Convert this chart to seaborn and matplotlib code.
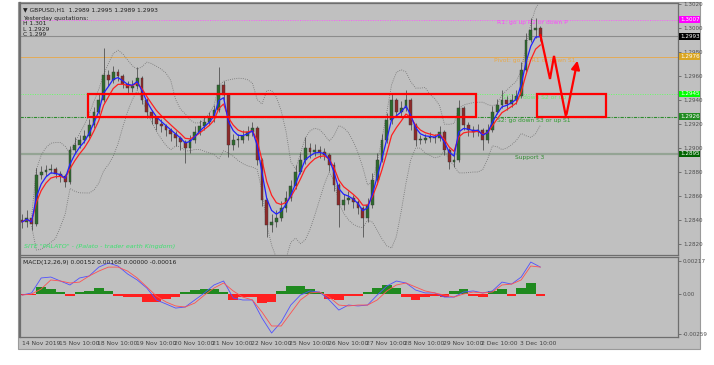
import numpy as np
import pandas as pd
import matplotlib
matplotlib.use("Agg")
import matplotlib.pyplot as plt
import seaborn as sns
from matplotlib.patches import Rectangle

# GBPUSD H1, sampled every 3 hourly bars (bar index in hours from 14 Nov 11:00)
bar_step = 3
first_open = 1.28400
close = [1.28383, 1.28417, 1.28367, 1.28775, 1.28800, 1.28817, 1.28825, 1.28783, 1.28767, 1.28717,
         1.28983, 1.29025, 1.29067, 1.29100, 1.29192, 1.29300, 1.29400, 1.29608, 1.29567, 1.29633,
         1.29600, 1.29533, 1.29500, 1.29517, 1.29583, 1.29400, 1.29300, 1.29250, 1.29200, 1.29183,
         1.29150, 1.29117, 1.29083, 1.29050, 1.29000, 1.29067, 1.29133, 1.29183, 1.29217, 1.29250,
         1.29317, 1.29525, 1.29442, 1.29025, 1.29067, 1.29067, 1.29100, 1.29133, 1.29167, 1.28900,
         1.28567, 1.28358, 1.28383, 1.28417, 1.28500, 1.28583, 1.28683, 1.28800, 1.28900, 1.29000,
         1.28967, 1.28983, 1.28967, 1.28942, 1.28858, 1.28692, 1.28525, 1.28567, 1.28583, 1.28550,
         1.28500, 1.28417, 1.28525, 1.28733, 1.28900, 1.29067, 1.29233, 1.29400, 1.29300, 1.29333,
         1.29400, 1.29192, 1.29067, 1.29067, 1.29083, 1.29092, 1.29083, 1.29133, 1.28983, 1.28883,
         1.28900, 1.29333, 1.29192, 1.29150, 1.29133, 1.29150, 1.29067, 1.29150, 1.29300, 1.29358,
         1.29400, 1.29367, 1.29400, 1.29433, 1.29650, 1.29900, 1.29983, 1.30000, 1.29930]
high = [1.28450, 1.28480, 1.28440, 1.28830, 1.28850, 1.28860, 1.28870, 1.28840, 1.28810, 1.28780,
        1.29020, 1.29090, 1.29110, 1.29150, 1.29240, 1.29340, 1.29450, 1.29833, 1.29650, 1.29680,
        1.29660, 1.29620, 1.29560, 1.29570, 1.29675, 1.29600, 1.29420, 1.29320, 1.29270, 1.29240,
        1.29200, 1.29170, 1.29140, 1.29100, 1.29070, 1.29110, 1.29180, 1.29230, 1.29260, 1.29300,
        1.29360, 1.29675, 1.29560, 1.29450, 1.29120, 1.29120, 1.29150, 1.29180, 1.29220, 1.29180,
        1.28920, 1.28580, 1.28450, 1.28480, 1.28560, 1.28640, 1.28730, 1.28860, 1.28960, 1.29092,
        1.29040, 1.29030, 1.29020, 1.29000, 1.28960, 1.28880, 1.28710, 1.28620, 1.28640, 1.28610,
        1.28570, 1.28520, 1.28580, 1.28790, 1.28960, 1.29120, 1.29290, 1.29458, 1.29420, 1.29390,
        1.29483, 1.29420, 1.29210, 1.29110, 1.29120, 1.29130, 1.29120, 1.29180, 1.29150, 1.29000,
        1.28950, 1.29400, 1.29350, 1.29220, 1.29180, 1.29200, 1.29170, 1.29200, 1.29350, 1.29410,
        1.29483, 1.29430, 1.29450, 1.29480, 1.29720, 1.29960, 1.30083, 1.30083, 1.30020]
low = [1.28330, 1.28340, 1.28317, 1.28350, 1.28740, 1.28770, 1.28790, 1.28750, 1.28720, 1.28675,
       1.28700, 1.28960, 1.29000, 1.29040, 1.29080, 1.29170, 1.29280, 1.29380, 1.29520, 1.29540,
       1.29560, 1.29500, 1.29460, 1.29470, 1.29490, 1.29370, 1.29250, 1.29200, 1.29150, 1.29130,
       1.29100, 1.29060, 1.29020, 1.28980, 1.28875, 1.28960, 1.29040, 1.29110, 1.29150, 1.29190,
       1.29220, 1.29300, 1.29400, 1.28925, 1.28980, 1.29010, 1.29040, 1.29070, 1.29100, 1.28860,
       1.28520, 1.28258, 1.28300, 1.28340, 1.28390, 1.28470, 1.28560, 1.28660, 1.28780, 1.28870,
       1.28920, 1.28930, 1.28920, 1.28900, 1.28810, 1.28640, 1.28342, 1.28480, 1.28530, 1.28500,
       1.28450, 1.28258, 1.28380, 1.28500, 1.28700, 1.28880, 1.29040, 1.29200, 1.29260, 1.29270,
       1.29310, 1.29150, 1.29020, 1.29030, 1.29040, 1.29050, 1.29040, 1.29060, 1.28940, 1.28825,
       1.28840, 1.28880, 1.29150, 1.29100, 1.29090, 1.29100, 1.28983, 1.29040, 1.29130, 1.29280,
       1.29330, 1.29320, 1.29340, 1.29370, 1.29420, 1.29630, 1.29880, 1.29920, 1.29890]

# MACD(12,26,9) read every 6 hourly bars
macd_step = 6
macd_main = [-0.00007, 0.00007, 0.00105, 0.00111, 0.00085, 0.00059, 0.00105, 0.00118, 0.00176, 0.00203,
             0.00183, 0.00131, 0.00092, 0.00039, -0.00039, -0.00065, -0.00092, -0.00085, -0.00039, 0.00007,
             0.00059, 0.00085, -0.00026, -0.00039, -0.00039, -0.00157, -0.00255, -0.00183, -0.00072, -0.00007,
             0.00020, 0.00013, -0.00039, -0.00105, -0.00072, -0.00078, -0.00072, -0.00007, 0.00052, 0.00085,
             0.00072, 0.00026, 0.00007, 0.00007, -0.00020, -0.00020, 0.00013, 0.00020, 0.00007, 0.00020,
             0.00078, 0.00065, 0.00111, 0.00209, 0.00176]
macd_signal = [-0.00007, 0.00000, 0.00033, 0.00092, 0.00085, 0.00072, 0.00078, 0.00118, 0.00150, 0.00176,
               0.00176, 0.00150, 0.00105, 0.00046, -0.00013, -0.00052, -0.00078, -0.00085, -0.00059, -0.00007,
               0.00039, 0.00072, 0.00020, -0.00020, -0.00039, -0.00118, -0.00209, -0.00209, -0.00124, -0.00039,
               0.00007, 0.00013, -0.00020, -0.00072, -0.00078, -0.00072, -0.00072, -0.00039, 0.00020, 0.00059,
               0.00072, 0.00046, 0.00020, 0.00007, -0.00007, -0.00020, 0.00000, 0.00013, 0.00007, 0.00013,
               0.00059, 0.00065, 0.00092, 0.00183, 0.00176]
macd_hist = [-0.00005, -0.00005, 0.00045, 0.00030, 0.00010, -0.00015, 0.00015, 0.00020, 0.00040, 0.00020,
             -0.00010, -0.00020, -0.00020, -0.00050, -0.00050, -0.00030, -0.00020, 0.00010, 0.00025, 0.00030,
             0.00030, 0.00010, -0.00040, -0.00020, -0.00020, -0.00060, -0.00050, 0.00020, 0.00050, 0.00050,
             0.00030, 0.00010, -0.00030, -0.00040, -0.00010, -0.00010, 0.00010, 0.00040, 0.00060, 0.00040,
             -0.00020, -0.00040, -0.00020, -0.00010, -0.00020, 0.00020, 0.00030, -0.00010, -0.00020, 0.00020,
             0.00030, -0.00010, 0.00040, 0.00070, -0.00016]

# pivot levels
level_names = ["R1", "Price", "Pivot", "S1", "S2", "S3"]
level_values = [1.3007, 1.2993, 1.2976, 1.2945, 1.2926, 1.2895]
level_texts = ["R1: go up R2 or down P", "", "Pivot: go up R1 or down S1",
               "S1: go down S2 or up P", "S2: go down S3 or up S1", "Support 3"]

# date axis
date_bars = [0, 23, 47, 71, 95, 119, 143, 167, 191, 215, 239, 263, 287, 311]
date_labels = ["14 Nov 2019", "15 Nov 10:00", "18 Nov 10:00", "19 Nov 10:00", "20 Nov 10:00",
               "21 Nov 10:00", "22 Nov 10:00", "25 Nov 10:00", "26 Nov 10:00", "27 Nov 10:00",
               "28 Nov 10:00", "29 Nov 10:00", "2 Dec 10:00", "3 Dec 10:00"]

# hand drawn annotations (bar index, price)
zones = [(41, 284), (322, 365)]
arrow_bar = [324, 330, 332.5, 340, 347.5]
arrow_price = [1.29942, 1.29575, 1.29767, 1.29258, 1.29750]

df = pd.DataFrame({"close": close, "high": high, "low": low})
df["open"] = [first_open] + close[:-1]
df["bar"] = np.arange(len(df)) * bar_step
df["ma_fast"] = df["close"].ewm(span=3).mean()
df["ma_slow"] = df["close"].ewm(span=5).mean()
mid = df["close"].rolling(8, min_periods=3).mean()
sd = df["close"].rolling(8, min_periods=3).std(ddof=0)
df["bb_up"] = mid + 2 * sd
df["bb_lo"] = mid - 2 * sd

mdf = pd.DataFrame({"macd": macd_main, "signal": macd_signal, "hist": macd_hist})
mdf["bar"] = np.arange(len(mdf)) * macd_step

sns.set_style("white")
plt.rcParams["font.family"] = ["DejaVu Sans"]

W, H = 714, 365
fig = plt.figure(figsize=(W / 100, H / 100), dpi=100)
fig.patch.set_facecolor("white")
bg = "#c0c0c0"
frame = Rectangle((18 / W, 1 - 349 / H), 682 / W, 347 / H, transform=fig.transFigure,
                  facecolor=bg, edgecolor="#9a9a9a", lw=0.8, zorder=-10)
fig.add_artist(frame)

ax = fig.add_axes([20 / W, 1 - 255 / H, 658 / W, 252 / H])
axm = fig.add_axes([20 / W, 1 - 337 / H, 658 / W, 80 / H])
x_lim = (-1.25, 410)
for a in (ax, axm):
    a.set_facecolor(bg)
    a.set_xlim(*x_lim)
    for s in a.spines.values():
        s.set_color("#6e6e6e")
        s.set_linewidth(0.9)
    a.spines["left"].set_linewidth(1.6)

ax.set_ylim(1.28108, 1.30208)
axm.set_ylim(-0.00281, 0.00242)

# horizontal levels
level_styles = {
    "R1": dict(color="#ff55ff", ls=(0, (1, 1.5)), lw=0.7),
    "Price": dict(color="#8c8c8c", ls="-", lw=0.8),
    "Pivot": dict(color="#e8a848", ls="-", lw=0.6),
    "S1": dict(color="#66ff66", ls=(0, (1, 1.5)), lw=0.7),
    "S2": dict(color="#2e8b2e", ls=(0, (3, 1, 1, 1)), lw=0.8),
    "S3": dict(color="#94a494", ls="-", lw=1.6),
}
label_colors = {"R1": "#ff00ff", "Price": "#000000", "Pivot": "#daa520",
                "S1": "#00ff00", "S2": "#228b22", "S3": "#006400"}
text_colors = {"R1": "#ff44ff", "Pivot": "#e8a848", "S1": "#66ee66", "S2": "#2e9b2e", "S3": "#2e8b2e"}
text_x = {"R1": 297, "Pivot": 295, "S1": 300, "S2": 297, "S3": 308}
for name, val in zip(level_names, level_values):
    ax.axhline(val, zorder=1, **level_styles[name])
    ax.text(1.003, val, f"{val:.4f}", transform=ax.get_yaxis_transform(), fontsize=4.1,
            color="white", va="center", ha="left", zorder=6, clip_on=False,
            bbox=dict(boxstyle="square,pad=0.15", fc=label_colors[name], ec="none"))
for name, val, txt in zip(level_names, level_values, level_texts):
    if txt:
        ax.text(text_x[name], val - 0.00028, txt, fontsize=4.3, color=text_colors[name],
                va="center", ha="left", zorder=2)

# bollinger bands
for col in ("bb_up", "bb_lo"):
    sns.lineplot(x=df["bar"], y=df[col], ax=ax, color="#707070", linewidth=0.6,
                 linestyle=(0, (1, 1.6)), estimator=None, sort=False, legend=False)

# candles
up = df["close"] >= df["open"]
ax.vlines(df["bar"], df["low"], df["high"], color="#3c3c3c", lw=0.5, zorder=3)
body_lo = np.minimum(df["open"], df["close"])
body_h = np.maximum(np.abs(df["close"] - df["open"]), 0.00004)
ax.bar(df["bar"], body_h, bottom=body_lo, width=1.8,
       color=np.where(up, "#2d6b2d", "#8e2a2a"), edgecolor="#383838", linewidth=0.3, zorder=4)

# moving averages
sns.lineplot(x=df["bar"], y=df["ma_slow"], ax=ax, color="#ff2020", linewidth=0.9,
             estimator=None, sort=False, legend=False, zorder=5)
sns.lineplot(x=df["bar"], y=df["ma_fast"], ax=ax, color="#2020ff", linewidth=0.9,
             estimator=None, sort=False, legend=False, zorder=5)

# zones and forecast arrow
for b0, b1 in zones:
    ax.add_patch(Rectangle((b0, level_values[4]), b1 - b0, level_values[3] - level_values[4],
                           fill=False, edgecolor="#ff0000", lw=1.6, zorder=7))
ax.plot(arrow_bar[:-1], arrow_price[:-1], color="#ff0000", lw=1.6, zorder=7, solid_joinstyle="miter")
ax.annotate("", xy=(arrow_bar[-1], arrow_price[-1]), xytext=(arrow_bar[-2], arrow_price[-2]),
            arrowprops=dict(arrowstyle="-|>,head_length=0.5,head_width=0.25", color="#ff0000", lw=1.6),
            zorder=7)

# y axis on the right
ticks = np.round(np.arange(1.2820, 1.30201, 0.0020), 4)
ax.yaxis.tick_right()
ax.set_yticks(ticks)
ax.set_yticklabels([f"{t:.4f}" for t in ticks])
ax.tick_params(axis="y", labelsize=4.1, colors="#505050", length=2, width=0.5, pad=1.5)
ax.set_xticks([])
ax.set_xlabel("")
ax.set_ylabel("")

# header texts
ax.text(0.004, 0.985, "\u25bc GBPUSD,H1  1.2989 1.2995 1.2989 1.2993", transform=ax.transAxes,
        fontsize=4.3, color="#202020", va="top", ha="left")
ax.text(0.005, 0.95, "Yesterday quotations:\nH 1.301\nL 1.2929\nC 1.299", transform=ax.transAxes,
        fontsize=4.3, color="#202020", va="top", ha="left", linespacing=1.15)
ax.text(0.006, 0.022, 'SITE "PALATO" - (Palato - trader earth Kingdom)', transform=ax.transAxes,
        fontsize=4.6, color="#3ee070", va="bottom", ha="left", style="italic")
ax.text(545, 1.3019, "\u25bc", fontsize=4, color="#606060", ha="center", va="center", clip_on=False)

# MACD panel
hist_col = np.where(mdf["hist"] >= 0, "#1f8a1f", "#ff2020")
axm.bar(mdf["bar"], mdf["hist"], width=6.0, color=hist_col, linewidth=0, zorder=2)
sns.lineplot(x=mdf["bar"], y=mdf["macd"], ax=axm, color="#5050ff", linewidth=0.6,
             estimator=None, sort=False, legend=False, zorder=3)
sns.lineplot(x=mdf["bar"], y=mdf["signal"], ax=axm, color="#ff5050", linewidth=0.6,
             estimator=None, sort=False, legend=False, zorder=3)
axm.yaxis.tick_right()
axm.set_yticks([0.00217, 0.0, -0.00259])
axm.set_yticklabels(["0.00217", "0.00", "-0.00259"])
axm.tick_params(axis="y", labelsize=4.1, colors="#505050", length=2, width=0.5, pad=1.5)
axm.set_xticks(date_bars)
axm.set_xticklabels(date_labels, ha="left")
axm.tick_params(axis="x", labelsize=4.3, colors="#404040", length=2, width=0.5, pad=1)
axm.set_xlabel("")
axm.set_ylabel("")
axm.text(0.004, 0.96, "MACD(12,26,9) 0.00152 0.00168 0.00000 -0.00016", transform=axm.transAxes,
         fontsize=4.3, color="#202020", va="top", ha="left")

fig.savefig("out.png", dpi=100, facecolor="white")
